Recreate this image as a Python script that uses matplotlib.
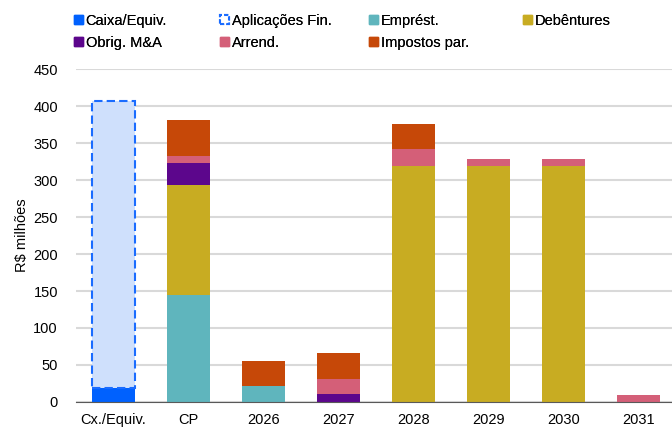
import matplotlib.pyplot as plt
from matplotlib.patches import Patch

plt.rcParams['font.family'] = ['Liberation Sans', 'DejaVu Sans']

categories = ['Cx./Equiv.', 'CP', '2026', '2027', '2028', '2029', '2030', '2031']
caixa = [19.5, 0, 0, 0, 0, 0, 0, 0]
aplicacoes = [388, 0, 0, 0, 0, 0, 0, 0]
emprest = [0, 145, 21, 0, 0, 0, 0, 0]
debentures = [0, 148.5, 0, 0, 319, 319, 319, 0]
obrig = [0, 30, 0, 11, 0, 0, 0, 0]
arrend = [0, 8.7, 0, 20.5, 22.5, 10, 10, 9]
impostos = [0, 48.7, 34, 35, 34.5, 0, 0, 0]

colors = {
    'caixa': '#0061fe',
    'aplic_face': '#cfe0fc',
    'aplic_edge': '#1a6cff',
    'emprest': '#5fb5bd',
    'debentures': '#c8ac22',
    'obrig': '#5c068c',
    'arrend': '#d45f78',
    'impostos': '#c64808',
}

fig = plt.figure(figsize=(6.72, 4.29), dpi=100)
ax = fig.add_axes([0.113, 0.063, 0.893, 0.776])

x = list(range(len(categories)))
w = 0.57
bottom = [0.0] * len(x)

def stack(vals, **kw):
    ax.bar(x, vals, w, bottom=bottom, zorder=3, **kw)
    for i, v in enumerate(vals):
        bottom[i] += v

stack(caixa, color=colors['caixa'])
# dashed outline bar drawn separately so the dashes only show on that bar
ax.bar(x[:1], aplicacoes[:1], w, bottom=bottom[:1], facecolor=colors['aplic_face'],
       edgecolor=colors['aplic_edge'], linestyle=(0, (4, 2)), linewidth=1.5, zorder=3)
for i, v in enumerate(aplicacoes):
    bottom[i] += v
stack(emprest, color=colors['emprest'])
stack(debentures, color=colors['debentures'])
stack(obrig, color=colors['obrig'])
stack(arrend, color=colors['arrend'])
stack(impostos, color=colors['impostos'])

ax.set_xlim(-0.5, 7.5)
ax.set_ylim(0, 450)
ax.set_yticks(range(0, 451, 50))
ax.set_xticks(x)
ax.set_xticklabels(categories)
ax.tick_params(length=0, labelsize=10.5, colors='#000000')
ax.tick_params(axis='x', pad=8)
ax.tick_params(axis='y', pad=13)
ax.grid(axis='y', color='#d9d9d9', linewidth=1.5, zorder=0)
for s in ['top', 'right', 'left']:
    ax.spines[s].set_visible(False)
ax.spines['bottom'].set_color('#595959')
ax.spines['bottom'].set_zorder(4)
ax.set_ylabel('R$ milhões', fontsize=10.5, labelpad=3)

# legend: one small legend per column so columns sit at fixed x positions
columns = [
    ([Patch(color=colors['caixa']), Patch(color=colors['obrig'])],
     ['Caixa/Equiv.', 'Obrig. M&A'], 0.110),
    ([Patch(facecolor='white', edgecolor=colors['aplic_edge'], linestyle=(0, (2, 1)), linewidth=1.5),
      Patch(color=colors['arrend'])],
     ['Aplicações Fin.', 'Arrend.'], 0.328),
    ([Patch(color=colors['emprest']), Patch(color=colors['impostos'])],
     ['Emprést.', 'Impostos par.'], 0.549),
    ([Patch(color=colors['debentures'])], ['Debêntures'], 0.778),
]
for hs, ls, xpos in columns:
    leg = fig.legend(hs, ls, loc='upper left', bbox_to_anchor=(xpos, 0.968),
                     frameon=False, fontsize=10.5, handlelength=0.6, handleheight=0.6,
                     handletextpad=0.2, labelspacing=0.55, borderpad=0, borderaxespad=0)
    fig.add_artist(leg)

fig.savefig('out.png', dpi=100)
